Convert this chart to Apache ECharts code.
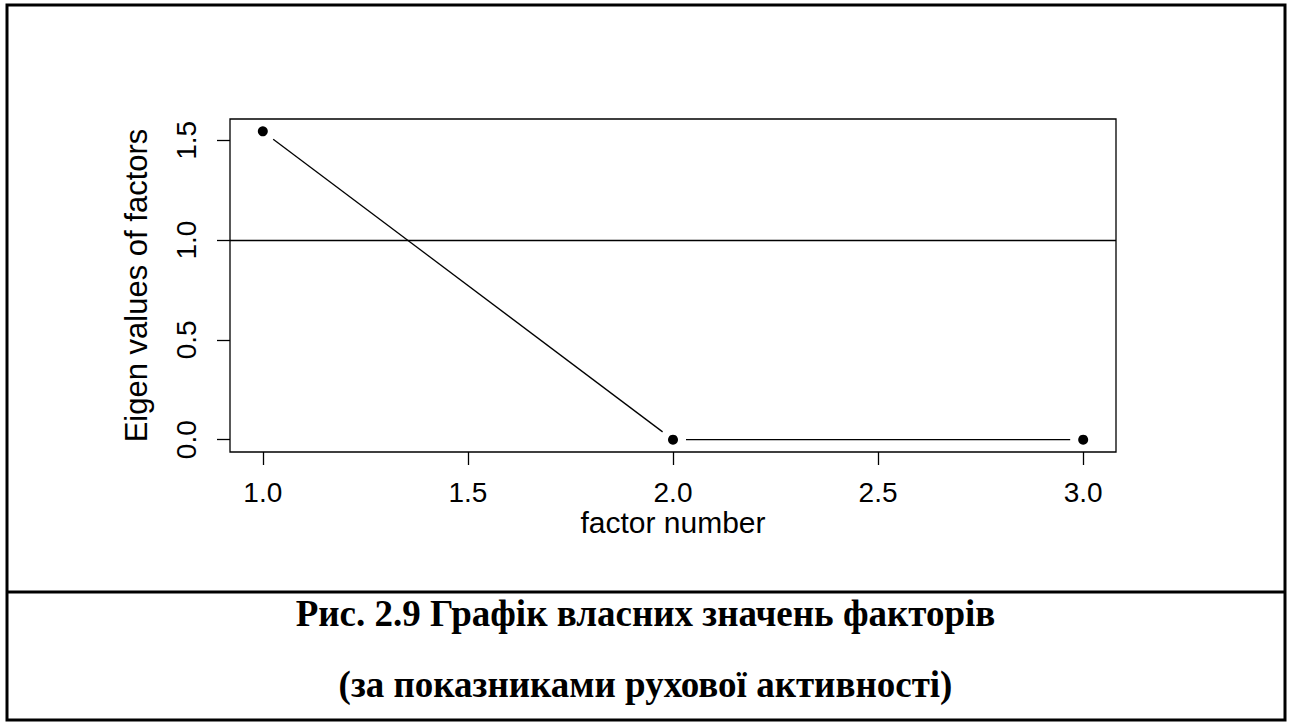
<!DOCTYPE html>
<html>
<head>
<meta charset="utf-8">
<script src="https://cdn.jsdelivr.net/npm/echarts@6/dist/echarts.min.js"></script>
<style>
    html, body { margin: 0; padding: 0; background: #fff; }
    #scree { width: 1291px; height: 724px; }
</style>
</head>
<body>
<div id="scree"></div>
<script>
    // data
    var factorNo = [1, 2, 3];
    var eigenVals = [1.545, 0, 0];
    var xTicks = [1.0, 1.5, 2.0, 2.5, 3.0];
    var yTicks = [0.0, 0.5, 1.0, 1.5];
    var cutLevel = [1];
    var captionLines = [
        'Рис. 2.9 Графік власних значень факторів',
        '(за показниками рухової активності)'
    ];

    // R style axis extents (4% padding each side)
    var xPad = (Math.max.apply(null, factorNo) - Math.min.apply(null, factorNo)) * 0.04;
    var yPad = (Math.max.apply(null, eigenVals) - Math.min.apply(null, eigenVals)) * 0.04;
    var xMin = Math.min.apply(null, factorNo) - xPad;
    var xMax = Math.max.apply(null, factorNo) + xPad;
    var yMin = Math.min.apply(null, eigenVals) - yPad;
    var yMax = Math.max.apply(null, eigenVals) + yPad;

    var sans = '"Liberation Sans", Arial, sans-serif';
    var serif = '"Liberation Serif", "Times New Roman", serif';

    var points = factorNo.map(function (x, i) { return [x, eigenVals[i]]; });
    var segments = [];
    for (var i = 0; i < factorNo.length - 1; i++) {
        segments.push([factorNo[i], eigenVals[i], factorNo[i + 1], eigenVals[i + 1]]);
    }

    var chartDom = document.getElementById('scree');
    var myChart = echarts.init(chartDom, null, {renderer: 'svg'});
    var gap = 13;

    var option = {
        animation: false,
        backgroundColor: '#fff',
        grid: {
            show: true,
            left: 230, top: 119, right: 175, bottom: 272,
            borderColor: '#000',
            borderWidth: 1.3
        },
        xAxis: {
            type: 'value',
            min: xMin, max: xMax,
            name: 'factor number',
            nameLocation: 'middle',
            nameGap: 55,
            nameTextStyle: {color: '#000', fontSize: 30, fontFamily: sans},
            axisLine: {show: false, onZero: false},
            axisTick: {show: true, inside: false, length: 13, customValues: xTicks,
                lineStyle: {color: '#000', width: 1.3}},
            axisLabel: {customValues: xTicks, margin: 26, color: '#000', fontSize: 28, fontFamily: sans,
                formatter: function (v) { return v.toFixed(1); }},
            splitLine: {show: false}
        },
        yAxis: {
            type: 'value',
            min: yMin, max: yMax,
            name: 'Eigen values of factors',
            nameLocation: 'middle',
            nameRotate: 90,
            nameGap: 78,
            nameTextStyle: {color: '#000', fontSize: 31, fontFamily: sans},
            axisLine: {show: false, onZero: false},
            axisTick: {show: true, inside: false, length: 13, customValues: yTicks,
                lineStyle: {color: '#000', width: 1.3}},
            axisLabel: {customValues: yTicks, rotate: 90, margin: 30, color: '#000', fontSize: 28, fontFamily: sans,
                formatter: function (v) { return v.toFixed(1); }},
            splitLine: {show: false}
        },
        series: [
            {
                // type="b": line pieces stop short of the points
                type: 'custom',
                data: segments,
                encode: {x: [0, 2], y: [1, 3]},
                renderItem: function (params, api) {
                    var a = api.coord([api.value(0), api.value(1)]);
                    var b = api.coord([api.value(2), api.value(3)]);
                    var dx = b[0] - a[0], dy = b[1] - a[1];
                    var len = Math.sqrt(dx * dx + dy * dy);
                    var ux = dx / len, uy = dy / len;
                    return {
                        type: 'line',
                        shape: {
                            x1: a[0] + ux * gap, y1: a[1] + uy * gap,
                            x2: b[0] - ux * gap, y2: b[1] - uy * gap
                        },
                        style: {stroke: '#000', lineWidth: 1.3}
                    };
                },
                silent: true
            },
            {
                type: 'scatter',
                data: points,
                symbol: 'circle',
                symbolSize: 10,
                itemStyle: {color: '#000', opacity: 1},
                silent: true,
                markLine: {
                    silent: true,
                    symbol: 'none',
                    label: {show: false},
                    lineStyle: {color: '#000', width: 1.3, type: 'solid'},
                    data: cutLevel.map(function (v) { return {yAxis: v}; })
                }
            }
        ],
        graphic: [
            {type: 'rect', shape: {x: 7, y: 5, width: 1278, height: 715},
                style: {fill: 'none', stroke: '#000', lineWidth: 3}},
            {type: 'line', shape: {x1: 7, y1: 592, x2: 1285, y2: 592},
                style: {stroke: '#000', lineWidth: 3}},
            {type: 'text', x: 645.5, y: 613,
                style: {text: captionLines[0], align: 'center', verticalAlign: 'middle',
                    fill: '#000', fontSize: 37, fontWeight: 'bold', fontFamily: serif}},
            {type: 'text', x: 645.5, y: 684,
                style: {text: captionLines[1], align: 'center', verticalAlign: 'middle',
                    fill: '#000', fontSize: 37, fontWeight: 'bold', fontFamily: serif}}
        ]
    };

    option && myChart.setOption(option);
</script>
</body>
</html>
